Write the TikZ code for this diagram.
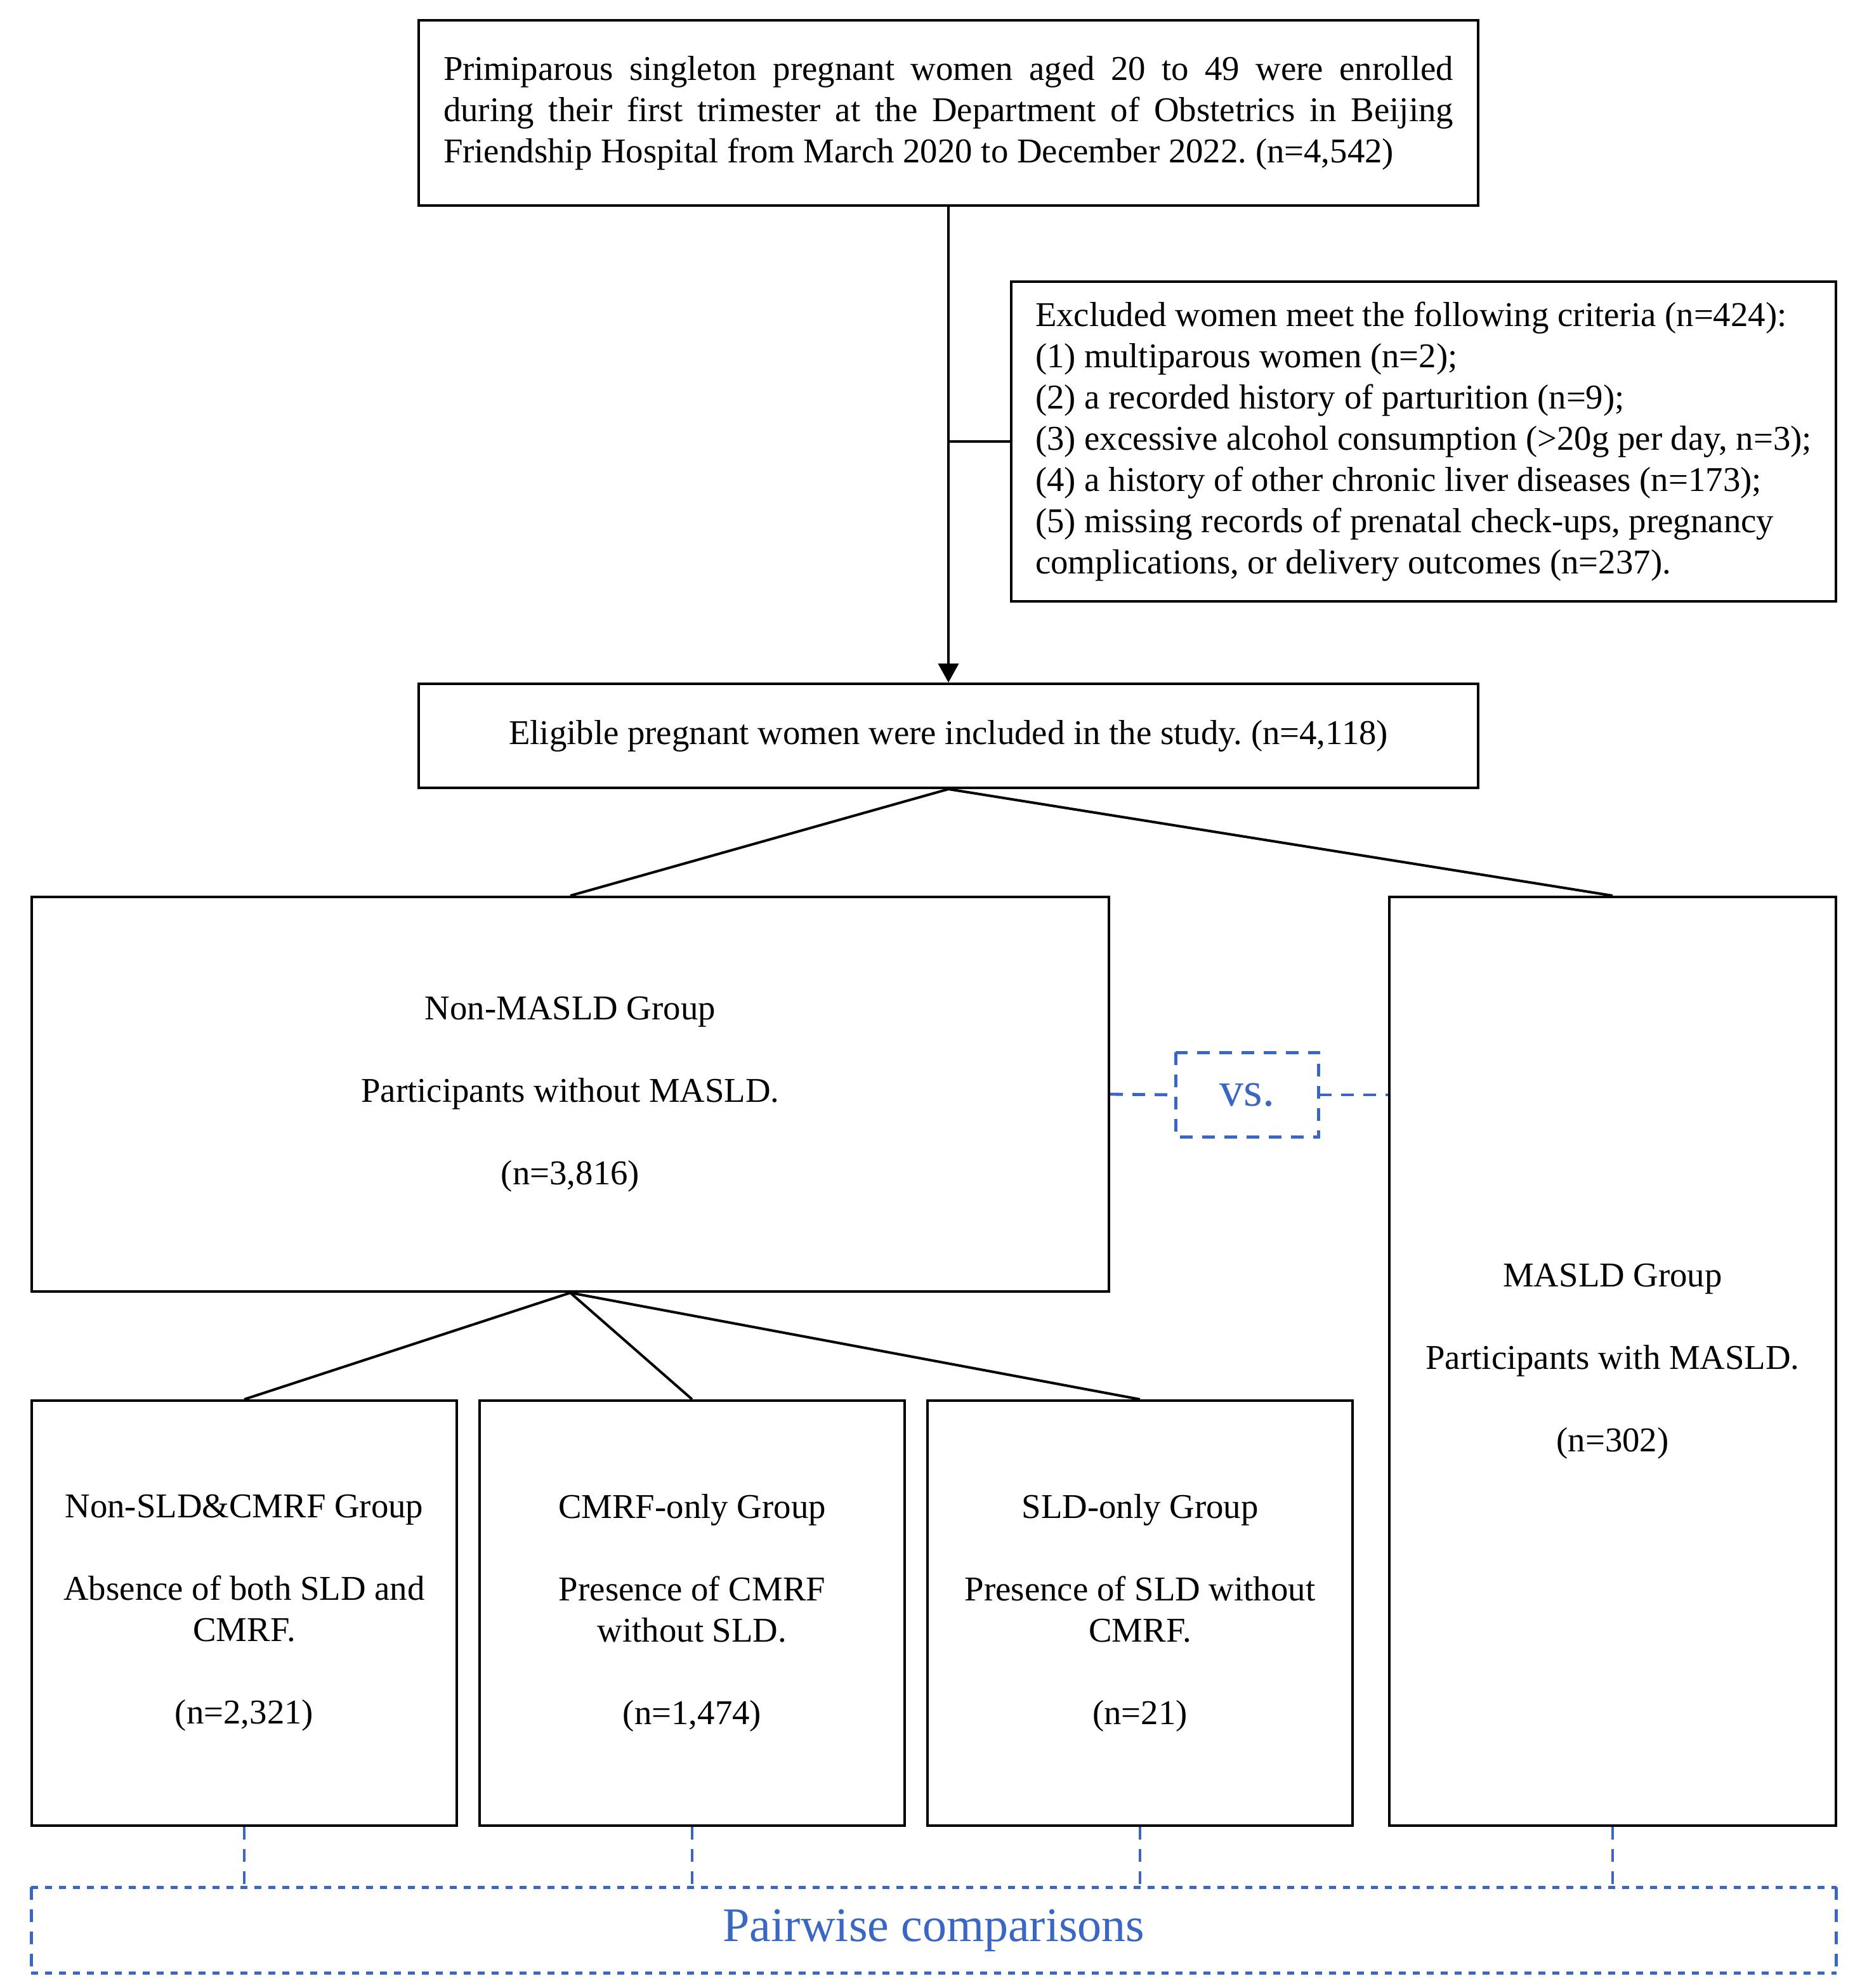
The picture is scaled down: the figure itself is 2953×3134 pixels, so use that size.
\documentclass[tikz,border=0pt]{standalone}
\usepackage{fontspec}
\setmainfont{Liberation Serif}
\frenchspacing
\usetikzlibrary{arrows.meta}
\definecolor{cmpblue}{RGB}{59,103,196}
\tikzset{
  box/.style={draw=black, line width=1pt, inner sep=0pt, font=\fontsize{13.7}{16.25}\selectfont},
  conn/.style={draw=black, line width=1pt},
  bluedash/.style={draw=cmpblue, line width=1.2pt, dash pattern=on 5pt off 3.75pt},
  bluetext/.style={text=cmpblue, font=\fontsize{19}{22}\selectfont, inner sep=0pt},
}
\begin{document}
\begin{tikzpicture}[x=0.25pt,y=-0.25pt]
\useasboundingbox[fill=white] (0,0) rectangle (2953,3134);

\node[box, minimum width=417.5pt, minimum height=73pt, text width=398pt, align=justify] (top) at (1495,178)
 {\frenchspacing Primiparous singleton pregnant women aged 20 to 49 were enrolled\linebreak during their first trimester at the Department of Obstetrics in Beijing\linebreak Friendship Hospital from March 2020 to December 2022. (n=4,542)};

\node[box, minimum width=325pt, minimum height=126pt, align=left] (excl) at (2244,696)
 {Excluded women meet the following criteria (n=424):\\
  (1) multiparous women (n=2);\\
  (2) a recorded history of parturition (n=9);\\
  (3) excessive alcohol consumption (>20g per day, n=3);\\
  (4) a history of other chronic liver diseases (n=173);\\
  (5) missing records of prenatal check-ups, pregnancy\\
  complications, or delivery outcomes (n=237).};

\node[box, minimum width=417.5pt, minimum height=41pt] (elig) at (1495,1160)
 {\frenchspacing Eligible pregnant women were included in the study. (n=4,118)};

\node[box, minimum width=424.5pt, minimum height=155.5pt, align=center] (non) at (899,1725)
 {Non-MASLD Group\\[16.25pt]Participants without MASLD.\\[16.25pt](n=3,816)};

\node[box, minimum width=176pt, minimum height=366pt, align=center] (masld) at (2542,2146)
 {MASLD Group\\[16.25pt]Participants with MASLD.\\[16.25pt](n=302)};

\node[bluetext, minimum width=56pt, minimum height=33pt] (vs) at (1966,1726) {vs.};
\draw[bluedash] (vs.north west) rectangle (vs.south east);

\node[box, minimum width=167.5pt, minimum height=167.5pt, align=center] (s1) at (385,2543)
 {Non-SLD\&CMRF Group\\[16.25pt]Absence of both SLD and\\CMRF.\\[16.25pt](n=2,321)};
\node[box, minimum width=167.5pt, minimum height=167.5pt, align=center] (s2) at (1091,2543)
 {CMRF-only Group\\[16.25pt]Presence of CMRF\\without SLD.\\[16.25pt](n=1,474)};
\node[box, minimum width=167.5pt, minimum height=167.5pt, align=center] (s3) at (1797,2543)
 {SLD-only Group\\[16.25pt]Presence of SLD without\\CMRF.\\[16.25pt](n=21)};

\node[bluetext, minimum width=711pt, minimum height=33.5pt] (pair) at (1472,3043) {Pairwise comparisons};
\draw[bluedash, dash pattern=on 2.75pt off 2.75pt] (pair.north west) -- (pair.north east);
\draw[bluedash, dash pattern=on 2.75pt off 2.75pt] (pair.south west) -- (pair.south east);
\draw[bluedash] (pair.north west) -- (pair.south west);
\draw[bluedash] (pair.north east) -- (pair.south east);

% connectors
\draw[conn, -{Triangle[width=8pt,length=7.5pt]}] (top.south) -- (elig.north);
\coordinate (br) at (top.south |- excl.west);
\draw[conn] (br) -- (excl.west);
\draw[conn] (elig.south) -- (non.north);
\draw[conn] (elig.south) -- (masld.north);
\draw[conn] (non.south) -- (s1.north);
\draw[conn] (non.south) -- (s2.north);
\draw[conn] (non.south) -- (s3.north);
\draw[bluedash] (non.east) -- (vs.west);
\draw[bluedash] (vs.east) -- (masld.west |- vs.east);
\foreach \n in {s1,s2,s3,masld}
  \draw[bluedash] (\n.south) -- (\n.south |- pair.north);
\end{tikzpicture}
\end{document}
